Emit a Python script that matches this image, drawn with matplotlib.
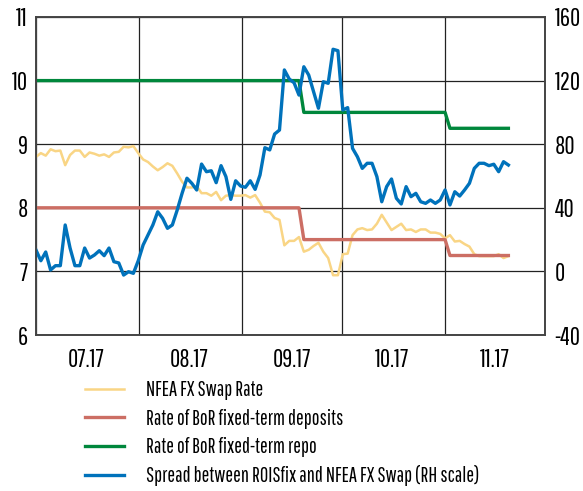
import matplotlib
matplotlib.use('Agg')
import matplotlib.pyplot as plt
import matplotlib.dates as mdates
import pandas as pd

# narrow font, fall back to DejaVu
plt.rcParams['font.family'] = ['Pathway Gothic One', 'DejaVu Sans']
plt.rcParams['axes.unicode_minus'] = False

# dates of observations (about one per working day)
dates = pd.date_range('2017-07-01', '2017-11-20', periods=98)

# NFEA FX Swap Rate, % (left scale)
swap_rate = [8.80, 8.86, 8.82, 8.92, 8.89, 8.90, 8.67, 8.83, 8.90, 8.90,
             8.80, 8.87, 8.85, 8.82, 8.84, 8.80, 8.87, 8.88, 8.96, 8.95,
             8.97, 8.86, 8.76, 8.72, 8.65, 8.59, 8.64, 8.70, 8.66, 8.54,
             8.41, 8.32, 8.32, 8.34, 8.23, 8.23, 8.19, 8.25, 8.12, 8.19,
             8.20, 8.19, 8.19, 8.20, 8.16, 8.20, 8.08, 7.94, 7.93, 7.84,
             7.81, 7.41, 7.48, 7.48, 7.54, 7.31, 7.34, 7.40, 7.45, 7.31,
             7.21, 6.94, 6.94, 7.27, 7.28, 7.57, 7.66, 7.68, 7.65, 7.66,
             7.75, 7.89, 7.77, 7.65, 7.70, 7.75, 7.65, 7.66, 7.62, 7.66,
             7.66, 7.61, 7.61, 7.59, 7.52, 7.57, 7.47, 7.48, 7.43, 7.39,
             7.27, 7.24, 7.24, 7.24, 7.24, 7.27, 7.21, 7.24]

# Bank of Russia fixed-term deposit and repo rates, %
deposit_rate = [8.0] * 55 + [7.5] * 30 + [7.25] * 13
repo_rate = [10.0] * 55 + [9.5] * 30 + [9.25] * 13

# spread between ROISfix and NFEA FX Swap, b.p. (right scale)
spread = [13.5, 6.7, 12.2, 0.9, 3.6, 3.6, 29.2, 14.7, 3.6, 3.6,
          14.7, 8.4, 10.3, 13.0, 9.9, 14.7, 6.1, 5.3, -2.3, -0.2,
          -1.2, 6.7, 16.6, 22.9, 29.2, 37.5, 33.4, 27.1, 29.2, 38.6,
          49.1, 58.6, 55.4, 51.2, 67.5, 62.7, 63.3, 55.8, 66.5, 59.6,
          45.3, 57.0, 53.7, 52.9, 57.0, 51.6, 60.6, 77.8, 76.4, 86.4,
          88.9, 126.7, 121.0, 118.6, 110.9, 128.7, 123.5, 113.0, 102.6, 119.3,
          118.3, 139.7, 138.8, 101.5, 103.0, 77.4, 72.1, 64.8, 68.0, 68.0,
          59.6, 43.8, 53.3, 58.1, 46.0, 42.4, 53.3, 47.0, 49.1, 43.8,
          42.8, 44.9, 42.8, 44.9, 51.2, 41.8, 50.1, 47.4, 51.2, 55.4,
          64.8, 68.0, 68.0, 66.5, 67.4, 62.7, 69.0, 66.9]

labels = ['NFEA FX Swap Rate',
          'Rate of BoR fixed-term deposits',
          'Rate of BoR fixed-term repo',
          'Spread between ROISfix and NFEA FX Swap (RH scale)']

fig = plt.figure(figsize=(5.83, 4.91), dpi=100)
ax = fig.add_axes([0.0617, 0.3177, 0.8731, 0.6477])
ax2 = ax.twinx()

l1, = ax.plot(dates, swap_rate, color='#F9D585', lw=1.8)
l2, = ax.plot(dates, deposit_rate, color='#CC6E64', lw=2.4)
l3, = ax.plot(dates, repo_rate, color='#00873C', lw=2.4)
l4, = ax2.plot(dates, spread, color='#0072BB', lw=2.4)

# left scale
ax.set_ylim(6, 11)
ax.set_yticks([6, 7, 8, 9, 10, 11])
ax.set_xlim(pd.Timestamp('2017-07-01'), pd.Timestamp('2017-12-01'))

# right scale
ax2.set_ylim(-40, 160)
ax2.set_yticks([-40, 0, 40, 80, 120, 160])

# month boundaries as grid, labels in the middle of the month
ax.xaxis.set_major_locator(mdates.MonthLocator())
ax.xaxis.set_major_formatter(plt.NullFormatter())
ax.xaxis.set_minor_locator(mdates.MonthLocator(bymonthday=16))
ax.xaxis.set_minor_formatter(mdates.DateFormatter('%m.%y'))
ax.grid(True, which='major', color='#222222', lw=0.9)
ax.set_axisbelow(True)

ax.tick_params(axis='both', which='both', length=0, labelsize=18)
ax.tick_params(axis='x', which='minor', pad=9)
ax.tick_params(axis='y', pad=6)
ax2.tick_params(axis='y', length=0, labelsize=18, pad=7)

for a in (ax, ax2):
    for s in a.spines.values():
        s.set_color('#444444')
        s.set_linewidth(1.2)

fig.legend([l1, l2, l3, l4], labels, loc='upper left',
           bbox_to_anchor=(0.146, 0.2253), frameon=False, fontsize=14.8,
           handlelength=1.9, handletextpad=1.07, labelspacing=0.40,
           borderaxespad=0, borderpad=0)

plt.savefig('out.png', dpi=100)
